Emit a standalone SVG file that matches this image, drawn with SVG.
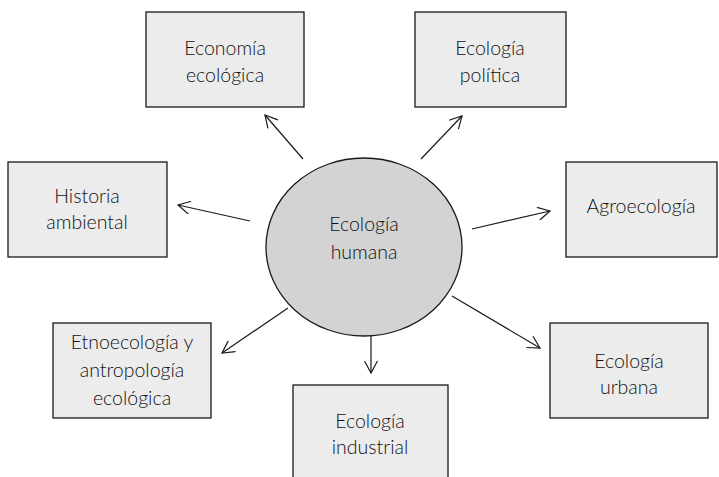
<svg xmlns="http://www.w3.org/2000/svg" width="719" height="477" viewBox="0 0 719 477">
<style>
.box{fill:#ececec;stroke:#1a1a1a;stroke-width:1.3}
.ell{fill:#d3d3d3;stroke:#1a1a1a;stroke-width:1.3}
text{font-family:Lato,"Open Sans","Liberation Sans",sans-serif;font-size:19.5px;font-weight:300;fill:#111;text-anchor:middle}
.conn line{stroke:#1a1a1a;stroke-width:1.2;marker-end:url(#ah)}
</style>
<defs>
<marker id="ah" viewBox="0 0 14 14" refX="13" refY="7" markerWidth="14" markerHeight="14" markerUnits="userSpaceOnUse" orient="auto">
<path d="M1,0.5 L13,7 L1,13.5" fill="none" stroke="#1a1a1a" stroke-width="1.2"/>
</marker>
</defs>
<rect width="719" height="477" fill="#fff"/>
<g class="conn">
<line x1="303" y1="159" x2="265" y2="115"/>
<line x1="421" y1="159" x2="462" y2="116"/>
<line x1="250" y1="221" x2="178" y2="205"/>
<line x1="472" y1="229" x2="550" y2="211"/>
<line x1="288" y1="308" x2="222" y2="353"/>
<line x1="371" y1="330" x2="371" y2="373"/>
<line x1="452" y1="296" x2="540" y2="348"/>
</g>
<g id="ecologia-humana"><ellipse class="ell" cx="364" cy="247" rx="98" ry="89"/><text x="364" y="231">Ecología</text><text x="364" y="259">humana</text></g>
<g id="economia-ecologica"><rect class="box" x="146" y="12" width="158" height="95"/><text x="225" y="55">Economía</text><text x="225" y="82">ecológica</text></g>
<g id="ecologia-politica"><rect class="box" x="415" y="12" width="151" height="95"/><text x="490" y="55">Ecología</text><text x="490" y="82">política</text></g>
<g id="historia-ambiental"><rect class="box" x="8" y="162" width="159" height="95"/><text x="87" y="203">Historia</text><text x="87" y="229">ambiental</text></g>
<g id="agroecologia"><rect class="box" x="566" y="162" width="151" height="95"/><text x="641" y="213">Agroecología</text></g>
<g id="etnoecologia"><rect class="box" x="53" y="323" width="158" height="95"/><text x="132" y="349">Etnoecología y</text><text x="132" y="377">antropología</text><text x="132" y="405">ecológica</text></g>
<g id="ecologia-industrial"><rect class="box" x="293" y="385" width="155" height="100"/><text x="370" y="428">Ecología</text><text x="370" y="454">industrial</text></g>
<g id="ecologia-urbana"><rect class="box" x="550" y="323" width="158" height="95"/><text x="629" y="368">Ecología</text><text x="629" y="394">urbana</text></g>
</svg>
